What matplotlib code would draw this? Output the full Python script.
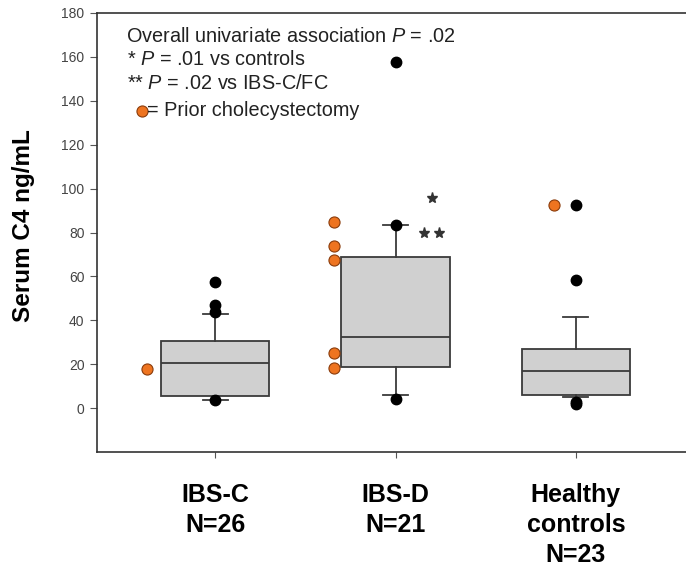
import matplotlib
matplotlib.use("Agg")
import matplotlib.pyplot as plt

plt.rcParams['font.family'] = ['Liberation Sans', 'DejaVu Sans']
plt.rcParams['mathtext.fontset'] = 'custom'
plt.rcParams['mathtext.rm'] = 'Liberation Sans'
plt.rcParams['mathtext.it'] = 'Liberation Sans:italic'

# groups
groups = ['IBS-C\nN=26', 'IBS-D\nN=21', 'Healthy\ncontrols\nN=23']
positions = [1, 2, 3]

# box stats (ng/mL)
q1 = [5.5, 18.7, 6.0]
med = [20.5, 32.4, 17.0]
q3 = [30.6, 69.0, 27.0]
whislo = [3.7, 6.0, 5.0]
whishi = [43.0, 83.5, 41.5]

# black points (outliers / extremes)
black_grp = [1, 1, 1, 1, 2, 2, 2, 3, 3, 3, 3]
black_val = [57.5, 47.0, 44.0, 3.5, 157.5, 83.5, 4.0, 92.7, 58.5, 3.0, 2.0]

# orange points = prior cholecystectomy
orange_grp = [1, 2, 2, 2, 2, 2, 3]
orange_val = [18.0, 85.0, 74.0, 67.5, 25.0, 18.3, 92.5]
orange_dx = [-0.38, -0.34, -0.34, -0.34, -0.34, -0.34, -0.12]

fig = plt.figure(figsize=(6.86, 5.71), dpi=100)
ax = fig.add_axes([97/686, 1-452/571, 1-97/686, 439/571])

stats = []
for i in range(3):
    stats.append(dict(med=med[i], q1=q1[i], q3=q3[i], whislo=whislo[i],
                      whishi=whishi[i], fliers=[]))

edge = '#3a3a3a'
ax.bxp(stats, positions=positions, widths=0.6, capwidths=0.14,
       patch_artist=True, showfliers=False,
       boxprops=dict(facecolor='#d0d0d0', edgecolor=edge, linewidth=1.3),
       medianprops=dict(color=edge, linewidth=1.3),
       whiskerprops=dict(color=edge, linewidth=1.3),
       capprops=dict(color=edge, linewidth=1.3))

ax.plot(black_grp, black_val, 'o', color='black', ms=7.5, zorder=5)
ox = [g + d for g, d in zip(orange_grp, orange_dx)]
ax.plot(ox, orange_val, 'o', color='#ee7420', mec='#8a3c0c', mew=0.8,
        ms=8, zorder=5)

# significance stars
ax.plot([2.2], [95.7], '*', color='#333333', ms=8)
ax.plot([2.16, 2.24], [79.7, 79.7], '*', color='#333333', ms=8)

ax.set_xlim(0.344, 3.611)
ax.set_ylim(-20, 180)
ax.set_yticks(range(0, 181, 20))
ax.set_xticks(positions)
ax.set_xticklabels(groups, fontsize=18, fontweight='bold', linespacing=1.34)
ax.tick_params(axis='x', length=4, pad=18, color='#555555')
ax.tick_params(axis='y', length=5, pad=4, labelsize=10, labelcolor='#444444',
               color='#555555')
ax.set_ylabel('Serum C4 ng/mL', fontsize=17.5, fontweight='bold')
ax.yaxis.set_label_coords(-0.105, 0.515)

for s in ['left', 'bottom', 'top']:
    ax.spines[s].set_color('#333333')
    ax.spines[s].set_linewidth(1.2)
ax.spines['right'].set_visible(False)

tc = '#222222'
fs = 14.3
ax.text(0.049, 0.946, 'Overall univariate association $\\it{P}$ = .02',
        transform=ax.transAxes, fontsize=fs, va='center', color=tc)
ax.text(0.051, 0.893, '* $\\it{P}$ = .01 vs controls',
        transform=ax.transAxes, fontsize=fs, va='center', color=tc)
ax.text(0.051, 0.839, '** $\\it{P}$ = .02 vs IBS-C/FC',
        transform=ax.transAxes, fontsize=fs, va='center', color=tc)
ax.plot([0.0764], [0.777], 'o', color='#ee7420', mec='#8a3c0c', mew=0.8,
        ms=8, transform=ax.transAxes, clip_on=False)
ax.text(0.085, 0.777, '= Prior cholecystectomy',
        transform=ax.transAxes, fontsize=fs, va='center', color=tc)

fig.savefig('out.png', dpi=100)
